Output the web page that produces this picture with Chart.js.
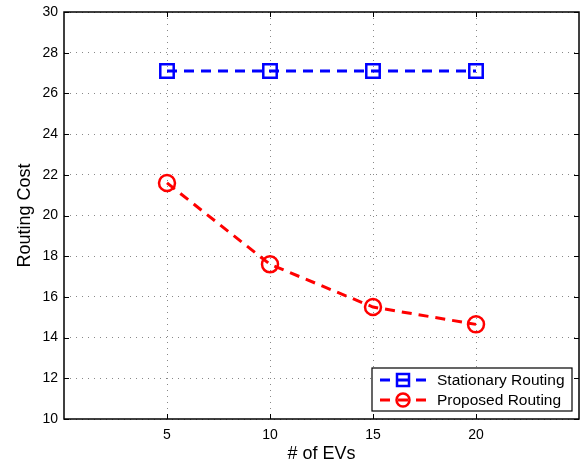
<!DOCTYPE html>
<html>
<head>
<meta charset="utf-8">
<script src="https://cdn.jsdelivr.net/npm/chart.js@4/dist/chart.umd.min.js"></script>
<style>
  html, body { margin: 0; padding: 0; background: #fff; }
  #wrap { width: 587px; height: 465px; }
</style>
</head>
<body>
<div id="wrap"><canvas id="evChart"></canvas></div>
<script>
// data
const evCounts = [5, 10, 15, 20];
const stationaryCost = [27.1, 27.1, 27.1, 27.1];
const proposedCost = [21.6, 17.6, 15.5, 14.65];
const xTicks = [5, 10, 15, 20];
const yTicks = [10, 12, 14, 16, 18, 20, 22, 24, 26, 28, 30];
const seriesNames = ["Stationary Routing", "Proposed Routing"];

const FONT = "'Liberation Sans', Arial, Helvetica, sans-serif";

// matlab style box + inward ticks + legend inside the axes
const matlabBox = {
    id: "matlabBox",
    afterDraw(chart) {
        const ctx = chart.ctx;
        const a = chart.chartArea;
        const xs = chart.scales.x, ys = chart.scales.y;
        ctx.save();
        ctx.strokeStyle = "#000";
        ctx.lineWidth = 1.5;
        ctx.strokeRect(a.left, a.top, a.right - a.left, a.bottom - a.top);
        ctx.lineWidth = 1;
        ctx.beginPath();
        xTicks.forEach(v => {
            const px = Math.round(xs.getPixelForValue(v)) + 0.5;
            ctx.moveTo(px, a.bottom); ctx.lineTo(px, a.bottom - 5);
            ctx.moveTo(px, a.top); ctx.lineTo(px, a.top + 5);
        });
        yTicks.forEach(v => {
            const py = Math.round(ys.getPixelForValue(v)) + 0.5;
            ctx.moveTo(a.left, py); ctx.lineTo(a.left + 5, py);
            ctx.moveTo(a.right, py); ctx.lineTo(a.right - 5, py);
        });
        ctx.stroke();

        // legend box
        const bx = 372, by = 368, bw = 200, bh = 43;
        ctx.fillStyle = "#fff";
        ctx.fillRect(bx, by, bw, bh);
        ctx.lineWidth = 1.2;
        ctx.strokeStyle = "#000";
        ctx.strokeRect(bx, by, bw, bh);
        chart.data.datasets.forEach((ds, i) => {
            const ly = by + 12 + i * 20;
            ctx.strokeStyle = ds.borderColor;
            ctx.lineWidth = 3;
            ctx.setLineDash([10, 8]);
            ctx.beginPath();
            ctx.moveTo(bx + 8, ly); ctx.lineTo(bx + 57, ly);
            ctx.stroke();
            ctx.setLineDash([]);
            ctx.lineWidth = 2.5;
            if (ds.pointStyle === "rect") {
                ctx.strokeRect(bx + 25, ly - 6, 12, 12);
            } else {
                ctx.beginPath();
                ctx.arc(bx + 31, ly, 6.5, 0, Math.PI * 2);
                ctx.stroke();
            }
            ctx.fillStyle = "#000";
            ctx.font = "15.5px " + FONT;
            ctx.textBaseline = "middle";
            ctx.fillText(ds.label, bx + 65, ly + 1);
        });
        ctx.restore();
    }
};

new Chart(document.getElementById("evChart"), {
    type: "line",
    data: {
        datasets: [
            {
                label: seriesNames[0],
                data: evCounts.map((x, i) => ({ x: x, y: stationaryCost[i] })),
                borderColor: "#0000ff",
                backgroundColor: "rgba(0,0,0,0)",
                borderWidth: 3,
                borderDash: [10, 7],
                pointStyle: "rect",
                pointRadius: 9.5,
                pointBorderWidth: 2.5,
                pointBorderColor: "#0000ff",
                pointBackgroundColor: "rgba(0,0,0,0)",
                tension: 0
            },
            {
                label: seriesNames[1],
                data: evCounts.map((x, i) => ({ x: x, y: proposedCost[i] })),
                borderColor: "#ff0000",
                backgroundColor: "rgba(0,0,0,0)",
                borderWidth: 3,
                borderDash: [10, 7],
                pointStyle: "circle",
                pointRadius: 8,
                pointBorderWidth: 2.5,
                pointBorderColor: "#ff0000",
                pointBackgroundColor: "rgba(0,0,0,0)",
                tension: 0
            }
        ]
    },
    options: {
        responsive: true,
        maintainAspectRatio: false,
        animation: false,
        layout: { autoPadding: false, padding: { left: 0, right: 8, top: 12, bottom: 0 } },
        plugins: {
            legend: { display: false },
            tooltip: { enabled: false }
        },
        scales: {
            x: {
                type: "linear",
                min: 0,
                max: 25,
                afterBuildTicks: s => { s.ticks = xTicks.map(v => ({ value: v })); },
                afterFit: s => { s.height = 46; s.paddingLeft = 0; s.paddingRight = 0; },
                grid: { color: "#888", drawTicks: false, lineWidth: 1 },
                border: { display: false, dash: [1, 5] },
                ticks: { color: "#000", font: { family: FONT, size: 14 }, padding: 8 },
                title: { display: true, text: "# of EVs", color: "#000", font: { family: FONT, size: 18 }, padding: { top: 0, bottom: 0 } }
            },
            y: {
                min: 10,
                max: 30,
                afterBuildTicks: s => { s.ticks = yTicks.map(v => ({ value: v })); },
                afterFit: s => { s.width = 64; s.paddingTop = 0; s.paddingBottom = 0; },
                grid: { color: "#888", drawTicks: false, lineWidth: 1 },
                border: { display: false, dash: [1, 5] },
                ticks: { color: "#000", font: { family: FONT, size: 14 }, padding: 6 },
                title: { display: true, text: "Routing Cost", color: "#000", font: { family: FONT, size: 18 }, padding: { top: 14, bottom: 0 } }
            }
        }
    },
    plugins: [matlabBox]
});
</script>
</body>
</html>
